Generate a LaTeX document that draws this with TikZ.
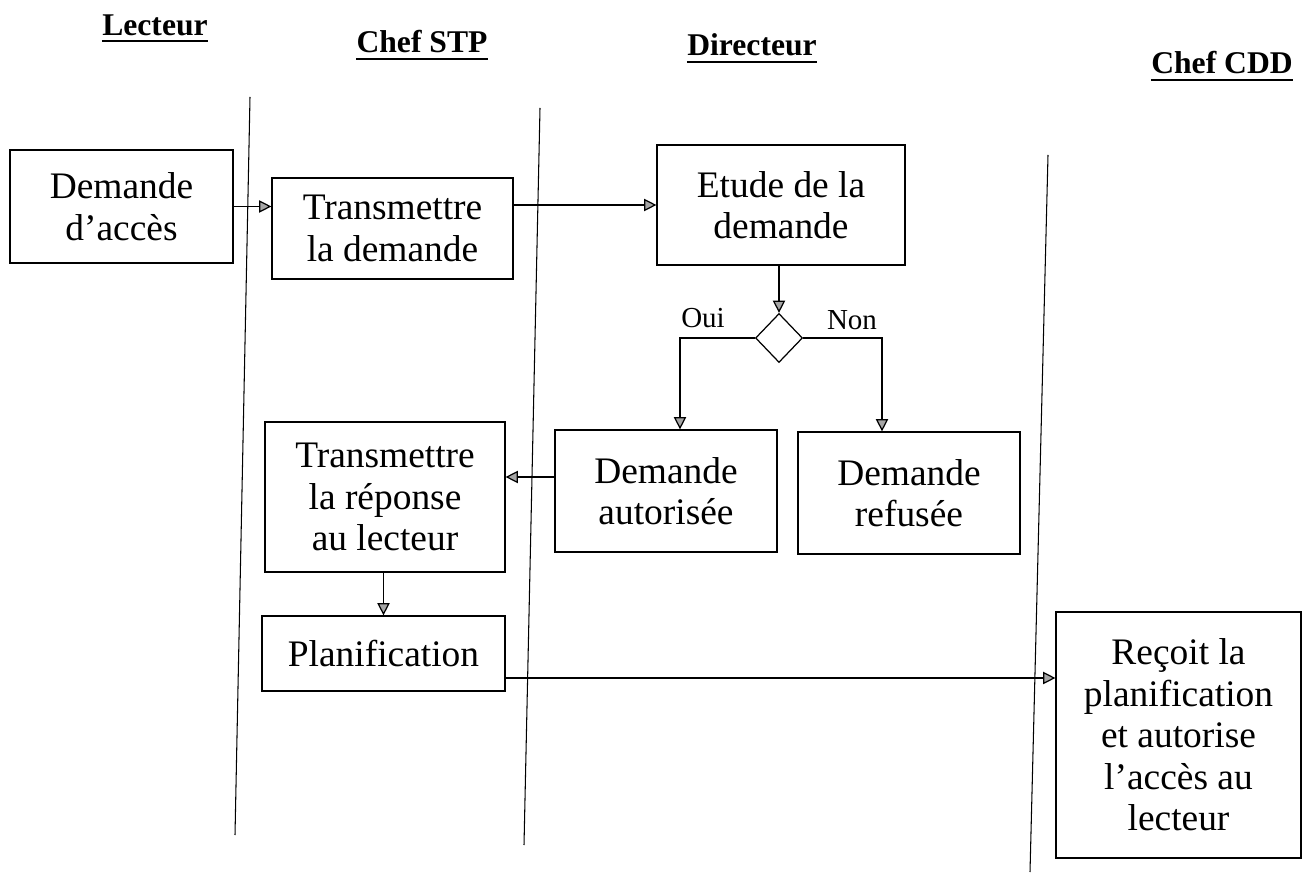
\documentclass[tikz,border=0pt]{standalone}
\usepackage{fontspec}
\setmainfont{Liberation Serif}
\usetikzlibrary{arrows.meta,positioning,shapes.geometric,calc}

\begin{document}
\begin{tikzpicture}[
  x=0.02cm,y=-0.02cm,
  box/.style={draw,line width=0.7pt,align=center,inner sep=2pt,
    font=\fontsize{21.3}{23.6}\selectfont},
  title/.style={font=\fontsize{18}{21}\selectfont\bfseries,inner xsep=0pt},
  uline/.style={line width=1.3pt},
  lbl/.style={font=\fontsize{16.5}{19}\selectfont},
  lane/.style={line width=0.6pt},
  arr/.style={-{Triangle[width=7pt,length=7pt,fill=gray!70]},line width=0.7pt}
]
  \useasboundingbox (0,0) rectangle (1308,884);

  % lane headers
  \node[title] (tlect) at (155,25) {Lecteur};
  \node[title] (tstp) at (422,42) {Chef STP};
  \node[title] (tdir) at (752,45) {Directeur};
  \node[title] (tcdd) at (1222,63) {Chef CDD};
  \foreach \t in {tlect,tstp,tdir,tcdd}
    \draw[uline] ([yshift=-3.5pt]\t.base west) -- ([yshift=-3.5pt]\t.base east);

  % lane separators
  \draw[lane] (250,97) -- (235,835);
  \draw[lane] (540,108) -- (524,845);
  \draw[lane] (1048,155) -- (1030,872);

  % activities
  \node[box,minimum width=4.46cm,minimum height=2.26cm] (acces) at (121.5,206.5)
    {Demande\\d'accès};
  \node[box,minimum width=4.82cm,minimum height=2.02cm] (transdem) at (392.5,228.5)
    {Transmettre\\la demande};
  \node[box,minimum width=4.96cm,minimum height=2.4cm] (etude) at (781,205)
    {Etude de la\\demande};
  \node[draw,line width=0.7pt,diamond,inner sep=0pt,minimum width=0.94cm,
    minimum height=0.98cm] (dec) at (779,338) {};
  \node[box,minimum width=4.44cm,minimum height=2.44cm] (autor) at (666,491)
    {Demande\\autorisée};
  \node[box,minimum width=4.44cm,minimum height=2.44cm] (refus) at (909,493)
    {Demande\\refusée};
  \node[box,minimum width=4.8cm,minimum height=3cm] (reponse) at (385,497)
    {Transmettre\\la réponse\\au lecteur};
  \node[box,minimum width=4.86cm,minimum height=1.5cm] (plan) at (383.5,653.5)
    {Planification};
  \node[box,minimum width=4.9cm,minimum height=4.92cm] (recoit) at (1178.5,735)
    {Reçoit la\\planification\\et autorise\\l'accès au\\lecteur};

  % flows
  \draw[arr] (acces.east) -- (acces.east -| transdem.west);
  \draw[arr] (etude.west -| transdem.east) -- (etude.west);
  \draw[arr] (etude.south -| dec.north) -- (dec.north);
  \draw[arr] (dec.west) -| ([xshift=0.28cm]autor.north);
  \draw[arr] (dec.east) -| ([xshift=-0.54cm]refus.north);
  \node[lbl] (oui) at (703,318) {Oui};
  \node[lbl] (non) at (852,320) {Non};
  \draw[arr] ([yshift=0.28cm]autor.west) -- ([yshift=0.28cm]autor.west -| reponse.east);
  \draw[arr] (reponse.south -| plan.north) -- (plan.north);
  \draw[arr] ([yshift=-0.49cm]plan.east) -- ([yshift=-0.49cm]plan.east -| recoit.west);
\end{tikzpicture}
\end{document}
